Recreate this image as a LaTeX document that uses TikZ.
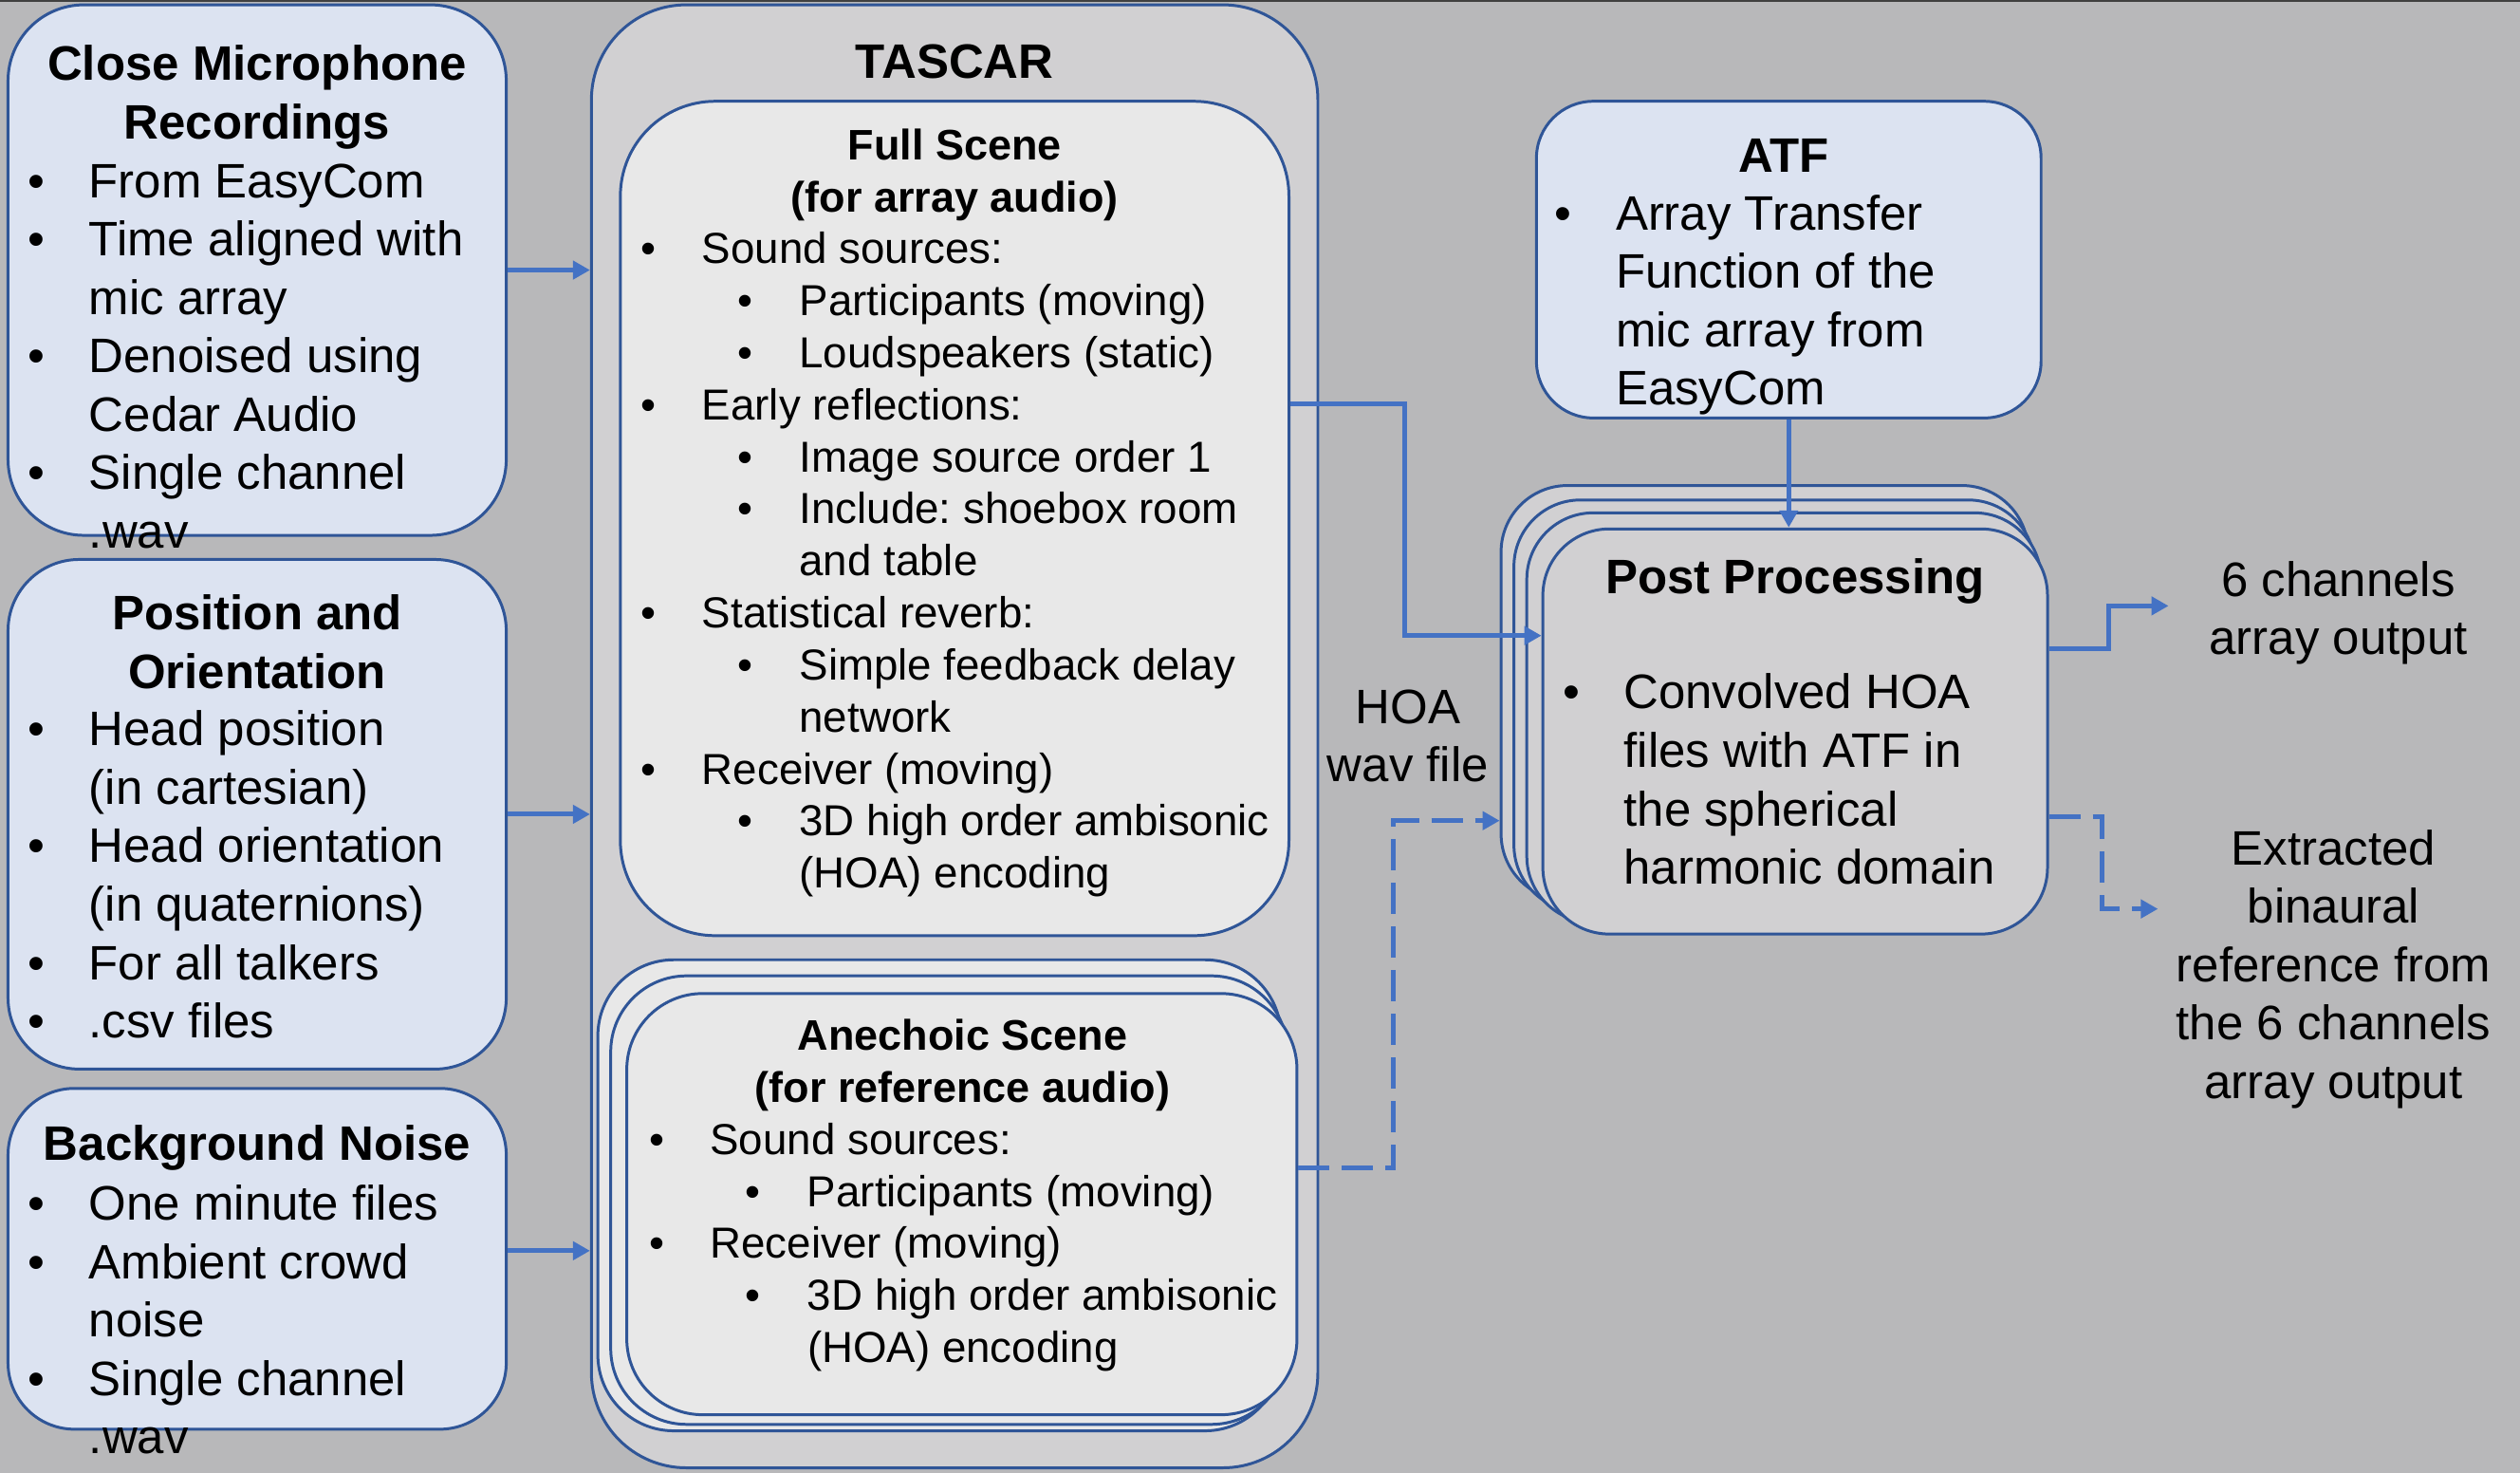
\documentclass[tikz,border=0pt]{standalone}
\usepackage{fontspec}
\setmainfont{Liberation Sans}
\usetikzlibrary{arrows.meta, calc, fit}
\frenchspacing

\definecolor{bgcol}{HTML}{B8B8BA}
\definecolor{boxblue}{HTML}{DCE3F1}
\definecolor{edgeblue}{HTML}{2F5597}
\definecolor{tascargray}{HTML}{D1D0D2}
\definecolor{scenegray}{HTML}{E8E8E8}
\definecolor{arrowblue}{HTML}{4472C4}

\newlength{\dpx}\setlength{\dpx}{0.01694cm}
\newcommand{\itm}{\makebox[38\dpx][l]{\textbullet}}
\newcommand{\itmin}{\hspace*{38\dpx}}
\newcommand{\subitm}{\hspace*{60\dpx}\makebox[38.6\dpx][l]{\textbullet}}
\newcommand{\subin}{\hspace*{98.6\dpx}}
\newcommand{\lst}[1]{\begin{tabular}[t]{@{}l@{}}#1\end{tabular}}
\newcommand{\stk}[1]{\begin{tabular}[t]{@{}c@{}}#1\end{tabular}}

\begin{document}
\begin{tikzpicture}[x=0.01694cm, y=-0.01694cm,
	box/.style={draw=edgeblue, line width=0.85pt, fill=boxblue, rounded corners=0.75cm, inner sep=0pt},
	grp/.style={box, fill=tascargray, rounded corners=1cm},
	scene/.style={box, fill=scenegray, rounded corners=1cm},
	big/.style={inner sep=0pt, font=\fontsize{14.5}{17.5}\selectfont},
	bigb/.style={inner sep=0pt, font=\fontsize{14.5}{17.5}\selectfont\bfseries},
	small/.style={inner sep=0pt, font=\fontsize{13}{15.6}\selectfont},
	smallb/.style={inner sep=0pt, font=\fontsize{12.8}{15.6}\selectfont\bfseries},
	arr/.style={draw=arrowblue, line width=1.42pt, -{Triangle[length=0.18cm, width=0.19cm]}},
	dsh/.style={arr, dash pattern=on 0.33cm off 0.13cm}]

		\useasboundingbox (0,0) rectangle (1568,916);
		\fill[bgcol] (0,0) rectangle (1568,916);
		\draw[black!75, line width=0.6pt] (0,0.5) -- (1568,0.5);

		% inputs
		\node[box, fit={(5,3) (315,333)}, rounded corners=0.8cm] (closemic) {};
		\node[box, fit={(5,348) (315,665)}] (posor) {};
		\node[box, fit={(5,677) (315,889)}, rounded corners=0.7cm] (noise) {};

		% TASCAR with both scenes
		\node[grp, fit={(368,3) (820,913)}] (tascar) {};
		\node[scene, fit={(386,63) (802,582)}] (fullscene) {};
		\node[scene, fit={(372,597) (797,890)}, rounded corners=0.8cm] (anech3) {};
		\node[scene, fit={(380,607) (801,886)}, rounded corners=0.8cm] (anech2) {};
		\node[scene, fit={(390,618) (807,880)}, rounded corners=0.8cm] (anech) {};

		% ATF and post processing stack
		\node[box, fit={(956,63) (1270,260)}, rounded corners=0.6cm] (atf) {};
		\node[box, fill=tascargray, fit={(934,302) (1262,560)}, rounded corners=0.7cm] (post4) {};
		\node[box, fill=tascargray, fit={(942,311) (1266,567)}, rounded corners=0.7cm] (post3) {};
		\node[box, fill=tascargray, fit={(950,319) (1270,574)}, rounded corners=0.7cm] (post2) {};
		\node[box, fill=tascargray, fit={(960,329) (1274,581)}, rounded corners=0.7cm] (post) {};

		% texts
		\node[bigb, anchor=base] (closemictitle) at (160,50) {\stk{Close Microphone\\Recordings}};
		\node[big, anchor=base west] (closemiclist) at (17,123)
			{\lst{\itm From EasyCom\\ \itm Time aligned with\\ \itmin mic array\\ \itm Denoised using\\ \itmin Cedar Audio\\ \itm Single channel\\ \itmin .wav}};

		\node[bigb, anchor=base] (posortitle) at (160,392) {\stk{Position and\\Orientation}};
		\node[big, anchor=base west] (posorlist) at (17,464)
			{\lst{\itm Head position\\ \itmin (in cartesian)\\ \itm Head orientation\\ \itmin (in quaternions)\\ \itm For all talkers\\ \itm .csv files}};

		\node[bigb, anchor=base] (noisetitle) at (160,722) {Background Noise};
		\node[big, anchor=base west] (noiselist) at (17,759)
			{\lst{\itm One minute files\\ \itm Ambient crowd\\ \itmin noise\\ \itm Single channel\\ \itmin .wav}};

		\node[bigb, anchor=base] (tascartitle) at (594,49) {TASCAR};

		\node[smallb, anchor=base] (fulltitle) at (594,99.5) {\stk{Full Scene\\(for array audio)}};
		\node[small, anchor=base west] (fulllist) at (398.4,164)
			{\lst{\itm Sound sources:\\ \subitm Participants (moving)\\ \subitm Loudspeakers (static)\\
				\itm Early reflections:\\ \subitm Image source order 1\\ \subitm Include: shoebox room\\ \subin and table\\
				\itm Statistical reverb:\\ \subitm Simple feedback delay\\ \subin network\\
				\itm Receiver (moving)\\ \subitm 3D high order ambisonic\\ \subin (HOA) encoding}};

		\node[smallb, anchor=base] (anechtitle) at (599,653.5) {\stk{Anechoic Scene\\(for reference audio)}};
		\node[small, anchor=base west] (anechlist) at (403.4,718)
			{\lst{\itm Sound sources:\\ \subitm Participants (moving)\\ \itm Receiver (moving)\\
				\subitm 3D high order ambisonic\\ \subin (HOA) encoding}};

		\node[bigb, anchor=base] (atftitle) at (1110,107) {ATF};
		\node[big, anchor=base west] (atflist) at (967,143)
			{\lst{\itm Array Transfer\\ \itmin Function of the\\ \itmin mic array from\\ \itmin EasyCom}};

		\node[bigb, anchor=base] (posttitle) at (1117,369) {Post Processing};
		\node[big, anchor=base west] (postlist) at (972,441)
			{\lst{\itm Convolved HOA\\ \itmin files with ATF in\\ \itmin the spherical\\ \itmin harmonic domain}};

		\node[big, anchor=base] (hoa) at (876,450) {\stk{HOA\\wav file}};
		\node[big, anchor=base] (out6) at (1455,371) {\stk{6 channels\\array output}};
		\node[big, anchor=base] (extr) at (1452,538)
			{\stk{Extracted\\binaural\\reference from\\the 6 channels\\array output}};

		% connectors
		\draw[arr] (closemic.east) -- (closemic.east -| tascar.west);
		\draw[arr] (posor.east) -- (posor.east -| tascar.west);
		\draw[arr] ($(noise.east)+(0,-5)$) coordinate (nz) -- (nz -| tascar.west);

		\draw[arr] ($(fullscene.north east)!0.363!(fullscene.south east)$) -- ++(71,0)
			|- ($(post.north west)!0.265!(post.south west)$);
		\draw[dsh] ($(anech.north east)!0.415!(anech.south east)$) -- ++(59,0)
			|- ($(post4.north west)!0.806!(post4.south west)$);
		\draw[arr] (atf.south) -- (atf.south |- post.north);

		\draw[arr] ($(post.north east)!0.298!(post.south east)$) -- ++(37,0)
			|- ($(out6.west)+(-25,-5)$);
		\draw[dsh] ($(post.north east)!0.71!(post.south east)$) -- ++(33,0)
			|- ($(extr.west)+(-11,-38)$);

	\end{tikzpicture}
\end{document}
